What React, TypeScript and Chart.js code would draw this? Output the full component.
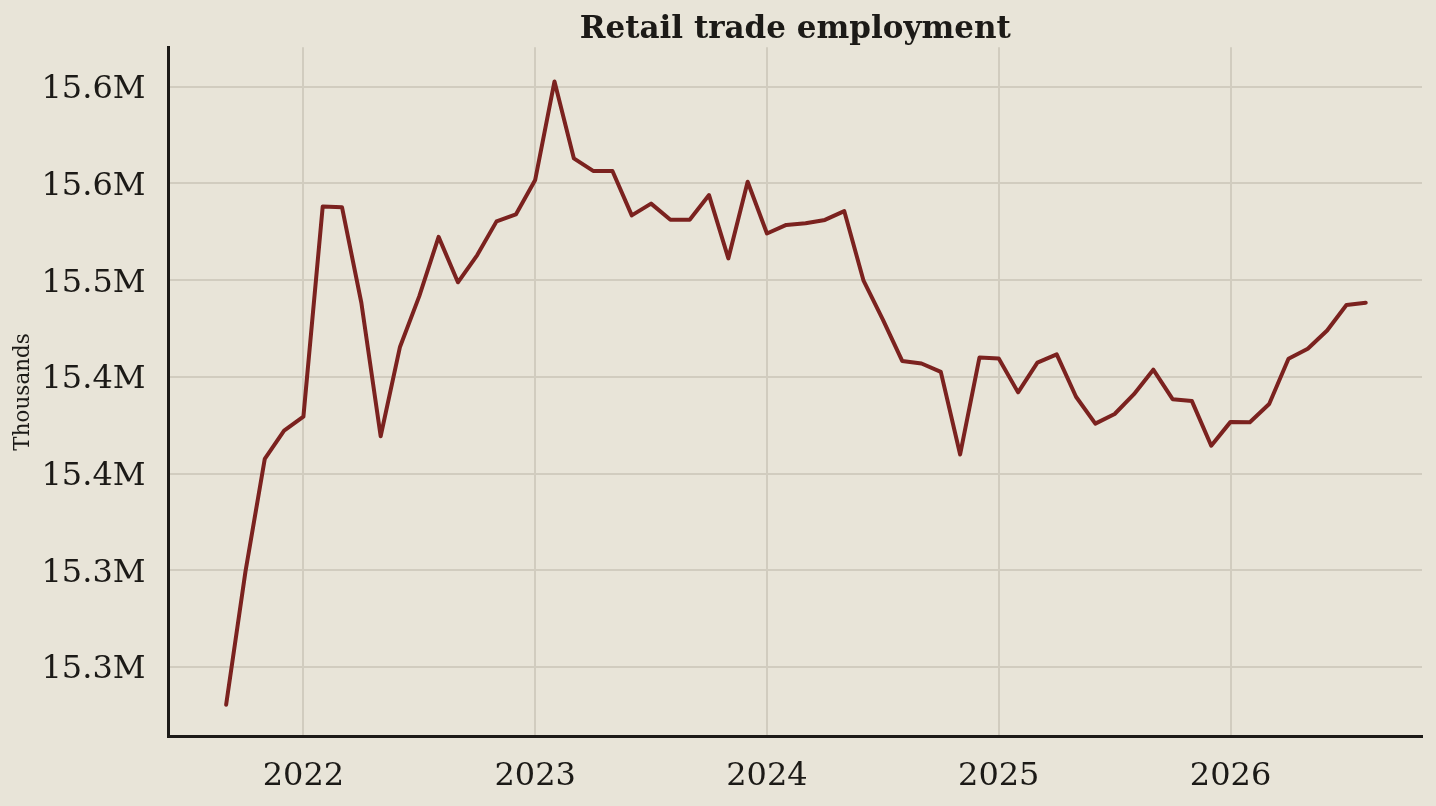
import React, { useEffect, useRef } from "react";
import { Chart, registerables } from "chart.js";

Chart.register(...registerables);

const TITLE = "Retail trade employment";
const Y_LABEL = "Thousands";

const MONTHS = [
  "2021-09", "2021-10", "2021-11", "2021-12",
  "2022-01", "2022-02", "2022-03", "2022-04", "2022-05", "2022-06",
  "2022-07", "2022-08", "2022-09", "2022-10", "2022-11", "2022-12",
  "2023-01", "2023-02", "2023-03", "2023-04", "2023-05", "2023-06",
  "2023-07", "2023-08", "2023-09", "2023-10", "2023-11", "2023-12",
  "2024-01", "2024-02", "2024-03", "2024-04", "2024-05", "2024-06",
  "2024-07", "2024-08", "2024-09", "2024-10", "2024-11", "2024-12",
  "2025-01", "2025-02", "2025-03", "2025-04", "2025-05", "2025-06",
  "2025-07", "2025-08", "2025-09", "2025-10", "2025-11", "2025-12",
  "2026-01", "2026-02", "2026-03", "2026-04", "2026-05", "2026-06",
  "2026-07", "2026-08",
];

// Retail trade employment, thousands
const EMPLOYMENT = [
  15236.6, 15319.2, 15389.2, 15406.7,
  15415.3, 15545.7, 15545.2, 15486.0, 15403.2, 15458.6,
  15490.1, 15526.9, 15498.7, 15515.6, 15536.5, 15540.8,
  15562.2, 15623.3, 15575.6, 15567.8, 15567.8, 15540.2,
  15547.5, 15537.5, 15537.5, 15552.8, 15513.5, 15561.1,
  15529.0, 15534.3, 15535.3, 15537.4, 15542.9, 15499.7,
  15475.6, 15449.9, 15448.3, 15443.1, 15391.9, 15452.0,
  15451.4, 15430.4, 15448.9, 15454.0, 15427.7, 15411.0,
  15417.0, 15429.3, 15444.5, 15426.2, 15425.0, 15397.3,
  15412.1, 15411.9, 15423.2, 15451.3, 15457.5, 15468.8,
  15484.6, 15486.0,
];

const YEAR_TICKS = [2022, 2023, 2024, 2025, 2026];
const VALUE_TICKS = [15260, 15320, 15380, 15440, 15500, 15560, 15620];

const BG = "#e8e4d8";
const GRID = "#d1ccbf";
const INK = "#1c1a17";
const LINE = "#7b221f";
const FONT = "'DejaVu Serif', serif";

export default function App() {
  const ref = useRef<HTMLCanvasElement>(null);

  useEffect(() => {
    document.body.style.margin = "0";
    document.body.style.background = BG;
    const points = MONTHS.map((m, i) => {
      const [yr, mo] = m.split("-").map(Number);
      return { x: yr + (mo - 1) / 12, y: EMPLOYMENT[i] };
    });

    const chart = new Chart(ref.current as HTMLCanvasElement, {
      type: "line",
      data: {
        datasets: [
          {
            data: points,
            borderColor: LINE,
            borderWidth: 4,
            pointRadius: 0,
            tension: 0,
            borderCapStyle: "round",
            borderJoinStyle: "round",
          },
        ],
      },
      options: {
        animation: false,
        responsive: true,
        maintainAspectRatio: false,
        layout: { padding: { left: 0, right: 14, top: 0, bottom: 0 } },
        plugins: {
          legend: { display: false },
          tooltip: { enabled: false },
          title: {
            display: true,
            text: TITLE,
            fullSize: false,
            color: INK,
            font: { family: FONT, size: 31, weight: "bold", lineHeight: 1.0 },
            padding: { top: 14.8, bottom: 1.5 },
          },
        },
        scales: {
          x: {
            type: "linear",
            min: 2021.418,
            max: 2026.826,
            afterBuildTicks: (s: any) => {
              s.ticks = YEAR_TICKS.map((v) => ({ value: v }));
            },
            afterFit: (s: any) => {
              s.height = 69.5;
            },
            grid: { color: GRID, lineWidth: 2, drawTicks: false },
            border: { display: true, color: INK, width: 3 },
            ticks: {
              color: INK,
              padding: 21,
              maxRotation: 0,
              font: { family: FONT, size: 32 },
              callback: (v: any) => String(v),
            },
          },
          y: {
            type: "linear",
            min: 15216.9,
            max: 15644.5,
            afterBuildTicks: (s: any) => {
              s.ticks = VALUE_TICKS.map((v) => ({ value: v }));
            },
            afterFit: (s: any) => {
              s.width = 168.5;
            },
            grid: { color: GRID, lineWidth: 2, drawTicks: false },
            border: { display: true, color: INK, width: 3 },
            ticks: {
              color: INK,
              padding: 23,
              labelOffset: 3,
              font: { family: FONT, size: 32 },
              callback: (v: any) => (Number(v) / 1000).toFixed(1) + "M",
            },
            title: {
              display: true,
              text: Y_LABEL,
              color: INK,
              font: { family: FONT, size: 21.5 },
              padding: { top: 10.3, bottom: 0 },
            },
          },
        },
      },
    });
    return () => chart.destroy();
  }, []);

  return (
    <div
      style={{
        position: "fixed",
        left: 0,
        top: 0,
        width: 1436,
        height: 806,
        background: BG,
      }}
    >
      <canvas ref={ref} />
    </div>
  );
}
